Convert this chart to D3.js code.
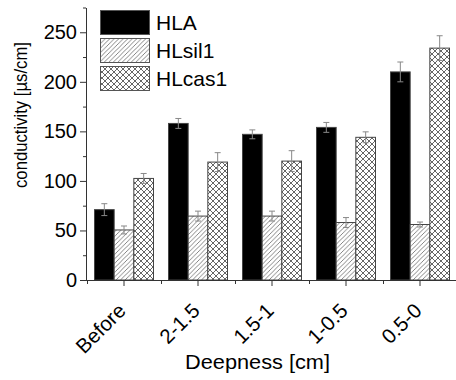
<!DOCTYPE html>
<html>
<head>
<meta charset="utf-8">
<script src="https://cdn.jsdelivr.net/npm/d3@7"></script>
<style>
  html, body { margin: 0; padding: 0; background: #fff; }
  svg { display: block; font-family: Arial, "Liberation Sans", sans-serif; }
</style>
</head>
<body>
<svg id="chart" width="456" height="380"></svg>
<script>
const categories = ["Before", "2-1.5", "1.5-1", "1-0.5", "0.5-0"];
const seriesNames = ["HLA", "HLsil1", "HLcas1"];
const HLA = [71, 158, 147, 154, 210];
const HLA_err = [6, 5, 4.5, 5, 10];
const HLsil1 = [50.5, 64.5, 64.5, 58, 56];
const HLsil1_err = [4, 5, 5, 5, 2.5];
const HLcas1 = [102.5, 119, 120, 144, 234];
const HLcas1_err = [5, 9.5, 10.5, 5.5, 12.5];
const yMajorTicks = [0, 50, 100, 150, 200, 250];
const yMinorTicks = [25, 75, 125, 175, 225, 275];

const values = [HLA, HLsil1, HLcas1];
const errors = [HLA_err, HLsil1_err, HLcas1_err];
const fills = ["#000", "url(#hatch)", "url(#cross)"];

const svg = d3.select("#chart");
const defs = svg.append("defs");

// diagonal hatch pattern
const ph = defs.append("pattern").attr("id", "hatch").attr("patternUnits", "userSpaceOnUse")
  .attr("width", 4.5).attr("height", 4.5);
ph.append("rect").attr("width", 4.5).attr("height", 4.5).attr("fill", "#fff");
ph.append("path").attr("d", "M-1,5.5 L5.5,-1 M-1,1 L1,-1 M3.5,5.5 L5.5,3.5")
  .attr("stroke", "#777").attr("stroke-width", 0.9);

// cross hatch pattern
const pc = defs.append("pattern").attr("id", "cross").attr("patternUnits", "userSpaceOnUse")
  .attr("width", 6).attr("height", 6);
pc.append("rect").attr("width", 6).attr("height", 6).attr("fill", "#fff");
pc.append("path").attr("d", "M0,0 L6,6 M6,0 L0,6")
  .attr("stroke", "#666").attr("stroke-width", 1);

const x0 = 87, x1 = 457;
const y = d3.scaleLinear().domain([0, 275]).range([280, 7.5]);
const x = d3.scaleBand().domain(categories).range([x0, x1]).padding(0);
const xi = d3.scaleBand().domain(seriesNames).range([7.5, x.bandwidth() - 7.5]).padding(0);

// bars
seriesNames.forEach((s, si) => {
  const g = svg.append("g");
  categories.forEach((c, ci) => {
    const v = values[si][ci];
    g.append("rect")
      .attr("x", x(c) + xi(s))
      .attr("y", y(v))
      .attr("width", xi.bandwidth())
      .attr("height", y(0) - y(v))
      .attr("fill", fills[si])
      .attr("stroke", "#444")
      .attr("stroke-width", 1);
  });
});

// error bars
seriesNames.forEach((s, si) => {
  categories.forEach((c, ci) => {
    const v = values[si][ci], e = errors[si][ci];
    const cx = x(c) + xi(s) + xi.bandwidth() / 2;
    const g = svg.append("g").attr("stroke", "#888").attr("stroke-width", 1);
    g.append("line").attr("x1", cx).attr("x2", cx).attr("y1", y(v + e)).attr("y2", y(v - e));
    g.append("line").attr("x1", cx - 3).attr("x2", cx + 3).attr("y1", y(v + e)).attr("y2", y(v + e));
    g.append("line").attr("x1", cx - 3).attr("x2", cx + 3).attr("y1", y(v - e)).attr("y2", y(v - e));
  });
});

// y axis
const yAxis = d3.axisLeft(y).tickValues(yMajorTicks).tickSize(6).tickPadding(3).tickSizeOuter(0);
const gy = svg.append("g").attr("transform", "translate(86,0)").call(yAxis);
gy.select(".domain").attr("stroke", "#333");
gy.selectAll(".tick line").attr("stroke", "#333");
gy.selectAll(".tick text").attr("font-size", 20).attr("fill", "#000")
  .attr("font-family", "Arial, 'Liberation Sans', sans-serif");
const gyMinor = svg.append("g").attr("transform", "translate(86,0)")
  .call(d3.axisLeft(y).tickValues(yMinorTicks).tickSize(3).tickFormat("").tickSizeOuter(0));
gyMinor.select(".domain").remove();
gyMinor.selectAll(".tick line").attr("stroke", "#333");

// x axis
const xAxis = d3.axisBottom(x).tickSize(6).tickPadding(4).tickSizeOuter(0);
const gx = svg.append("g").attr("transform", "translate(0,280)").call(xAxis);
gx.select(".domain").attr("stroke", "#333").attr("d", `M${x0 - 1},0.5H${x1}`);
gx.selectAll(".tick line").attr("stroke", "#333");
gx.selectAll(".tick text")
  .attr("font-size", 20.5).attr("fill", "#000")
  .attr("font-family", "Arial, 'Liberation Sans', sans-serif")
  .attr("text-anchor", "end")
  .attr("dy", null).attr("y", null)
  .attr("transform", "translate(3,32) rotate(-45)");
// minor x ticks at band boundaries
const bounds = categories.map(c => x(c));
svg.append("g").selectAll("line").data(bounds).join("line")
  .attr("x1", d => d + 0.5).attr("x2", d => d + 0.5)
  .attr("y1", 280).attr("y2", 284)
  .attr("stroke", "#333");

// axis titles
svg.append("text")
  .attr("transform", "translate(26.5,115) rotate(-90)")
  .attr("text-anchor", "middle")
  .attr("font-size", 18.5)
  .attr("textLength", 146)
  .attr("lengthAdjust", "spacingAndGlyphs")
  .text("conductivity [µs/cm]");
svg.append("text")
  .attr("x", 257.5).attr("y", 369)
  .attr("text-anchor", "middle")
  .attr("font-size", 20.5)
  .attr("textLength", 145)
  .attr("lengthAdjust", "spacingAndGlyphs")
  .text("Deepness [cm]");

// legend
const legend = svg.append("g");
seriesNames.forEach((s, i) => {
  const ly = 10 + i * 28;
  legend.append("rect").attr("x", 100.5).attr("y", ly + 0.5).attr("width", 49).attr("height", 24)
    .attr("fill", fills[i]).attr("stroke", "#555").attr("stroke-width", 1);
  legend.append("text").attr("x", 156).attr("y", ly + 19.5)
    .attr("font-size", 21).text(s);
});
</script>
</body>
</html>
